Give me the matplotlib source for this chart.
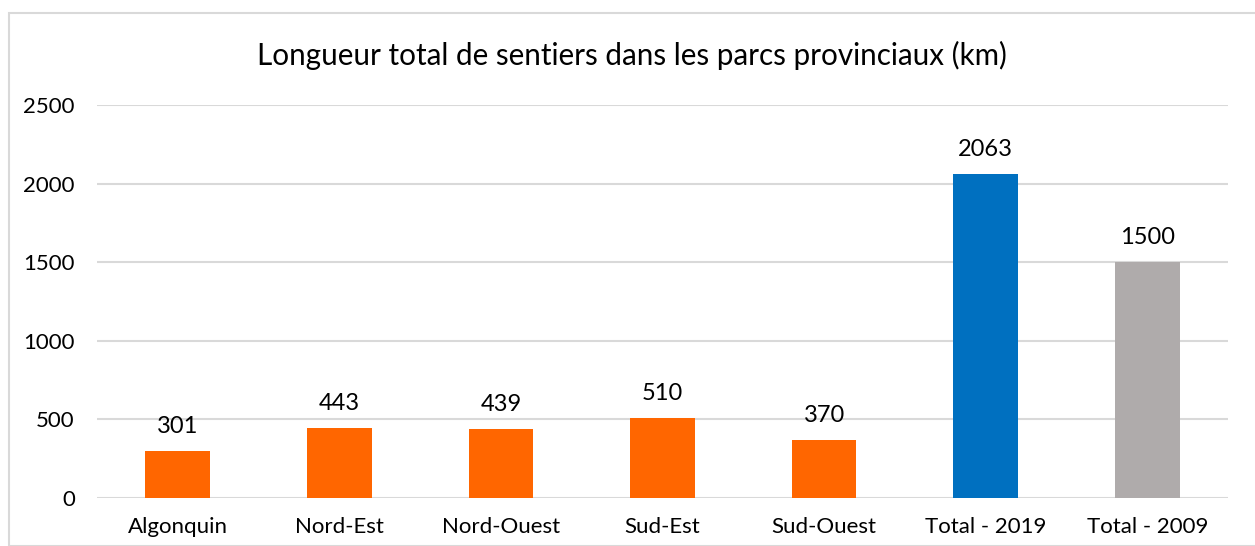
import matplotlib
matplotlib.use("Agg")
import matplotlib.pyplot as plt
from matplotlib.patches import Rectangle

categories = ["Algonquin", "Nord-Est", "Nord-Ouest", "Sud-Est", "Sud-Ouest", "Total - 2019", "Total - 2009"]
values = [301, 443, 439, 510, 370, 2063, 1500]
colors = ["#FF6600", "#FF6600", "#FF6600", "#FF6600", "#FF6600", "#0070C0", "#AFABAB"]
yticks = [0, 500, 1000, 1500, 2000, 2500]
title = "Longueur total de sentiers dans les parcs provinciaux (km)"

plt.rcParams['font.family'] = ['Lato', 'DejaVu Sans']

W, H = 1255, 546
fig = plt.figure(figsize=(W / 100, H / 100), dpi=100)
fig.patches.append(Rectangle((8.5 / W, 0), 1.2, 1 - 12.5 / H, transform=fig.transFigure,
                             fill=False, edgecolor="#D9D9D9", linewidth=1.5))

x0, x1 = 97, 1228
ytop, ybot = 105, 498
ax = fig.add_axes([x0 / W, 1 - ybot / H, (x1 - x0) / W, (ybot - ytop) / H])
xs = range(len(categories))
bars = ax.bar(xs, values, width=0.4, color=colors, zorder=3)
ax.set_xlim(-0.5, len(categories) - 0.5)
ax.set_ylim(0, 2500)
ax.set_yticks(yticks)
ax.set_xticks(list(xs))
ax.set_xticklabels(categories)
ax.grid(axis="y", color="#D9D9D9", linewidth=1.5, zorder=0)
for s in ax.spines.values():
    s.set_visible(False)
ax.tick_params(axis="both", length=0, colors="#000000")
ax.tick_params(axis="x", pad=14, labelsize=16)
ax.tick_params(axis="y", pad=16, labelsize=16)
for b, v in zip(bars, values):
    ax.annotate(str(v), (b.get_x() + b.get_width() / 2, v), xytext=(0, 10),
                textcoords="offset points", ha="center", va="bottom", fontsize=17)
fig.text(632 / W, 1 - 55 / H, title, ha="center", va="center", fontsize=21.3)
fig.savefig("out.png", dpi=100)
